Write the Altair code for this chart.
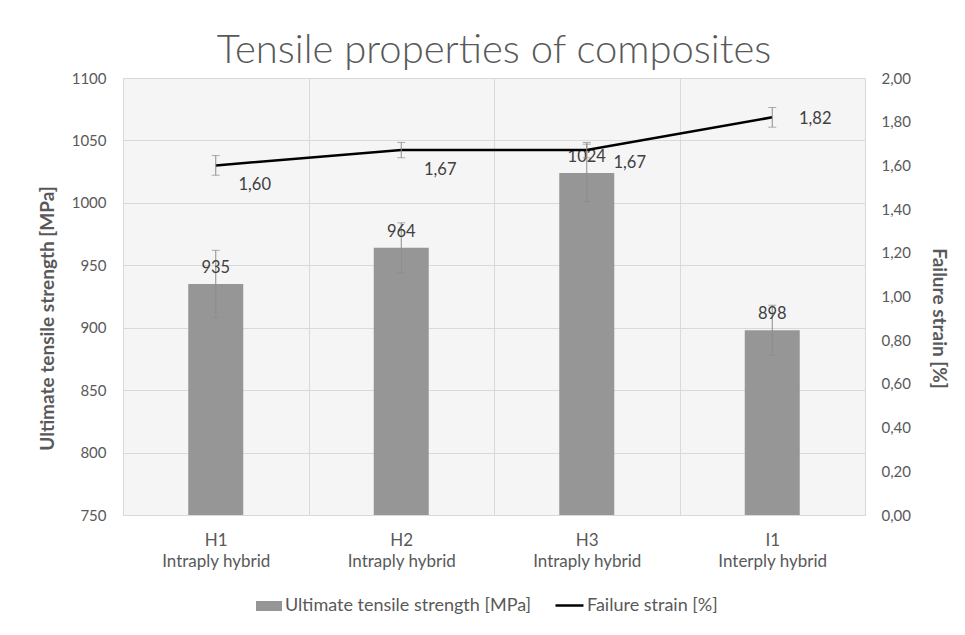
import altair as alt
import pandas as pd

codes = ["H1", "H2", "H3", "I1"]
types = ["Intraply hybrid", "Intraply hybrid", "Intraply hybrid", "Interply hybrid"]
uts = [935, 964, 1024, 898]
uts_err = [27, 20, 23, 20]
strain = [1.60, 1.67, 1.67, 1.82]
strain_err = [0.045, 0.035, 0.035, 0.045]

uts_name = "Ultimate tensile strength [MPa]"
strain_name = "Failure strain [%]"
left_ticks = [750, 800, 850, 900, 950, 1000, 1050, 1100]
right_ticks = [0.0, 0.2, 0.4, 0.6, 0.8, 1.0, 1.2, 1.4, 1.6, 1.8, 2.0]

df = pd.DataFrame({
    "cat": [f"{c}|{t}" for c, t in zip(codes, types)],
    "code": codes,
    "uts": uts,
    "uts_lo": [u - e for u, e in zip(uts, uts_err)],
    "uts_hi": [u + e for u, e in zip(uts, uts_err)],
    "strain": strain,
    "s_lo": [s - e for s, e in zip(strain, strain_err)],
    "s_hi": [s + e for s, e in zip(strain, strain_err)],
    "s_label": [f"{v:.2f}".replace(".", ",") for v in strain],
    "s1": uts_name,
    "s2": strain_name,
})

FONT = "Lato"
GREY = "#595959"
ERR = "#8c8c8c"

x = alt.X(
    "cat:N", sort=None, title=None,
    scale=alt.Scale(paddingInner=0, paddingOuter=0),
    axis=alt.Axis(labelExpr="split(datum.label, '|')", tickBand="extent", grid=True,
                  ticks=False, labelAngle=0, labelPadding=17, labelLineHeight=21,
                  labelFontSize=17, domainColor="#d9d9d9", gridColor="#d9d9d9"),
)

yscale_l = alt.Scale(domain=[750, 1100], zero=False, nice=False)
axis_l = alt.Axis(values=left_ticks, format="d", title=uts_name, titlePadding=14,
                  labelPadding=17, titleY=240, grid=True, gridColor="#d9d9d9",
                  domain=False, ticks=False)
yscale_r = alt.Scale(domain=[0, 2], nice=False)
axis_r = alt.Axis(values=right_ticks, orient="right", title=strain_name, titlePadding=18,
                  labelPadding=16, titleY=240, grid=False, domain=False, ticks=False,
                  labelExpr="replace(format(datum.value, '.2f'), '.', ',')")

base = alt.Chart(df)

bars = base.mark_bar(size=55).encode(
    x=x,
    y=alt.Y("uts:Q", scale=yscale_l, axis=axis_l),
    y2=alt.datum(750),
    fill=alt.Fill("s1:N", scale=alt.Scale(domain=[uts_name], range=["#969696"]),
                  legend=alt.Legend(orient="none", legendX=136, legendY=518, title=None,
                                    symbolType="M-1.3,-0.5H1.3V0.5H-1.3Z", symbolSize=400,
                                    symbolStrokeWidth=0, labelOffset=6, labelFontSize=18,
                                    labelColor=GREY, labelFont=FONT, labelLimit=400)),
)
bar_err = base.mark_rule(color=ERR, strokeWidth=1).encode(
    x=x, y=alt.Y("uts_lo:Q", scale=yscale_l, axis=axis_l), y2="uts_hi:Q")
bar_cap_lo = base.mark_tick(color=ERR, size=8, thickness=1).encode(
    x=x, y=alt.Y("uts_lo:Q", scale=yscale_l, axis=axis_l))
bar_cap_hi = base.mark_tick(color=ERR, size=8, thickness=1).encode(
    x=x, y=alt.Y("uts_hi:Q", scale=yscale_l, axis=axis_l))
bar_text = base.mark_text(baseline="bottom", dy=-8, fontSize=16.5, font=FONT, color="#404040").encode(
    x=x, y=alt.Y("uts:Q", scale=yscale_l, axis=axis_l), text="uts:Q")

left = alt.layer(bars, bar_err, bar_cap_lo, bar_cap_hi, bar_text)

line = base.mark_line(strokeWidth=2.5).encode(
    x=x,
    y=alt.Y("strain:Q", scale=yscale_r, axis=axis_r),
    stroke=alt.Stroke("s2:N", scale=alt.Scale(domain=[strain_name], range=["#000000"]),
                      legend=alt.Legend(orient="none", legendX=431, legendY=512, title=None,
                                        symbolType="stroke", symbolSize=784,
                                        symbolStrokeWidth=2.5, labelOffset=2, labelFontSize=18,
                                        labelColor=GREY, labelFont=FONT, labelLimit=400)),
)
s_err = base.mark_rule(color=ERR, strokeWidth=1).encode(
    x=x, y=alt.Y("s_lo:Q", scale=yscale_r, axis=axis_r), y2="s_hi:Q")
s_cap_lo = base.mark_tick(color=ERR, size=8, thickness=1).encode(
    x=x, y=alt.Y("s_lo:Q", scale=yscale_r, axis=axis_r))
s_cap_hi = base.mark_tick(color=ERR, size=8, thickness=1).encode(
    x=x, y=alt.Y("s_hi:Q", scale=yscale_r, axis=axis_r))


def s_text(sel, dx, dy):
    return base.transform_filter(
        alt.FieldOneOfPredicate(field="code", oneOf=sel)
    ).mark_text(dx=dx, dy=dy, fontSize=16.5, font=FONT, color="#404040").encode(
        x=x, y=alt.Y("strain:Q", scale=yscale_r, axis=axis_r), text="s_label:N")


right = alt.layer(line, s_err, s_cap_lo, s_cap_hi,
                  s_text(["H1", "H2"], 39, 20), s_text(["H3"], 43, 13), s_text(["I1"], 43, 2))

chart = alt.layer(left, right).resolve_scale(y="independent").properties(
    width=742, height=437,
    title=alt.TitleParams("Tensile properties of composites", fontSize=40, font=FONT,
                          fontWeight=300, color=GREY, anchor="middle", offset=0),
    padding={"left": 30, "top": 23, "right": 6, "bottom": 10},
).configure_view(stroke="#d9d9d9", fill="#f5f5f5").configure_axis(
    labelFont=FONT, labelFontSize=15, labelColor=GREY,
    titleFont=FONT, titleFontSize=19, titleFontWeight="bold", titleColor=GREY,
)

chart.save("out.html", embed_options={"renderer": "svg", "actions": False})
